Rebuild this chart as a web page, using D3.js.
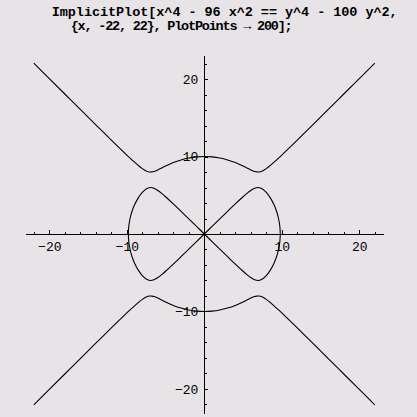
<!DOCTYPE html>
<html>
<head>
<meta charset="utf-8">
<script src="https://cdn.jsdelivr.net/npm/d3@7"></script>
<style>
  html, body { margin: 0; padding: 0; background: #e7e3e7; }
  svg { display: block; }
</style>
</head>
<body>
<svg id="chart" width="417" height="417"></svg>
<script>
// Title (Mathematica input)
const titleLines = [
  "ImplicitPlot[x^4 - 96 x^2 == y^4 - 100 y^2,",
  "{x, -22, 22}, PlotPoints \u2192 200];"
];

// Outer branch, first quadrant (x >= 0, y > 0)
const outerX = [0, 1, 2, 3, 4, 5, 5.5, 6, 6.5, 6.75, 7, 7.25, 7.5, 8, 8.5, 9, 9.5, 10, 11, 12, 13, 14, 15, 16, 18, 20, 22];
const outerY = [10, 9.952, 9.807, 9.562, 9.216, 8.771, 8.521, 8.273, 8.071, 8.013, 8.002, 8.045, 8.140, 8.442, 8.832, 9.265, 9.722, 10.191, 11.150, 12.125, 13.108, 14.095, 15.085, 16.077, 18.066, 20.057, 22.050];

// Inner loop branch, first quadrant
const innerX = [0, 1, 2, 3, 4, 5, 5.5, 6, 6.5, 7, 7.5, 8, 8.5, 9, 9.3, 9.5, 9.7, 9.75, 9.79, 9.798];
const innerY = [0, 0.980, 1.957, 2.926, 3.882, 4.803, 5.234, 5.618, 5.904, 5.997, 5.809, 5.361, 4.690, 3.762, 3.007, 2.343, 1.353, 0.948, 0.386, 0];

// Axis ticks
const majorTicks = [-20, -10, 10, 20];
const minorTicks = [-22, -18, -16, -14, -12, -8, -6, -4, -2, 2, 4, 6, 8, 12, 14, 16, 18, 22];
const plotRange = [-23.1, 23.1];

const svg = d3.select("#chart");
const x = d3.scaleLinear().domain(plotRange).range([25.3, 383.3]);
const y = d3.scaleLinear().domain(plotRange).range([413, 55]);

// Title
const title = svg.append("g")
  .attr("font-family", "'Liberation Mono', 'Courier New', monospace")
  .attr("font-weight", "bold")
  .attr("font-size", 13.5)
  .attr("fill", "#000");
title.append("text").attr("x", 51.7).attr("y", 15.8)
  .attr("textLength", 346).attr("lengthAdjust", "spacing")
  .text(titleLines[0]);
title.append("text").attr("x", 70.7).attr("y", 29.8)
  .attr("textLength", 222).attr("lengthAdjust", "spacing")
  .text(titleLines[1]);

// Axes
const fmt = d => d3.format("d")(d);
const axisFont = "'Liberation Mono', 'Courier New', monospace";

const xMinor = d3.axisBottom(x).tickValues(minorTicks).tickSizeInner(-2.5).tickSizeOuter(0).tickFormat("");
const xMajor = d3.axisBottom(x).tickValues(majorTicks).tickSizeInner(-4).tickSizeOuter(0).tickPadding(7.5).tickFormat(fmt);
const yMinor = d3.axisLeft(y).tickValues(minorTicks).tickSizeInner(-2.5).tickSizeOuter(0).tickFormat("");
const yMajor = d3.axisLeft(y).tickValues(majorTicks).tickSizeInner(-4).tickSizeOuter(0).tickPadding(6).tickFormat(fmt);

function styleAxis(g) {
  g.attr("font-family", axisFont).attr("font-size", 13);
  g.selectAll("path, line").attr("stroke", "#000").attr("stroke-width", 1).attr("shape-rendering", "crispEdges");
  g.selectAll("text").attr("fill", "#000");
}

svg.append("g").attr("transform", `translate(0,${y(0)})`).call(xMinor).call(styleAxis);
svg.append("g").attr("transform", `translate(0,${y(0)})`).call(xMajor).call(styleAxis);
svg.append("g").attr("transform", `translate(${x(0)},0)`).call(yMinor).call(styleAxis);
svg.append("g").attr("transform", `translate(${x(0)},0)`).call(yMajor).call(styleAxis);

// Build branches by the curve's symmetry about both axes
const outerQ = outerX.map((v, i) => [v, outerY[i]]);
const innerQ = innerX.map((v, i) => [v, innerY[i]]);

function mirrorOuter(sy) {
  const left = outerQ.slice(1).map(p => [-p[0], sy * p[1]]).reverse();
  const right = outerQ.map(p => [p[0], sy * p[1]]);
  return left.concat(right);
}
function lobe(sx) {
  const up = innerQ.map(p => [sx * p[0], p[1]]);
  const down = innerQ.slice(0, -1).map(p => [sx * p[0], -p[1]]).reverse();
  return up.concat(down);
}

const line = d3.line().x(d => x(d[0])).y(d => y(d[1])).curve(d3.curveCatmullRom.alpha(0.5));

const branches = [mirrorOuter(1), mirrorOuter(-1), lobe(1), lobe(-1)];
svg.append("g").selectAll("path").data(branches).join("path")
  .attr("d", line)
  .attr("fill", "none")
  .attr("stroke", "#000")
  .attr("stroke-width", 1.1);
</script>
</body>
</html>
